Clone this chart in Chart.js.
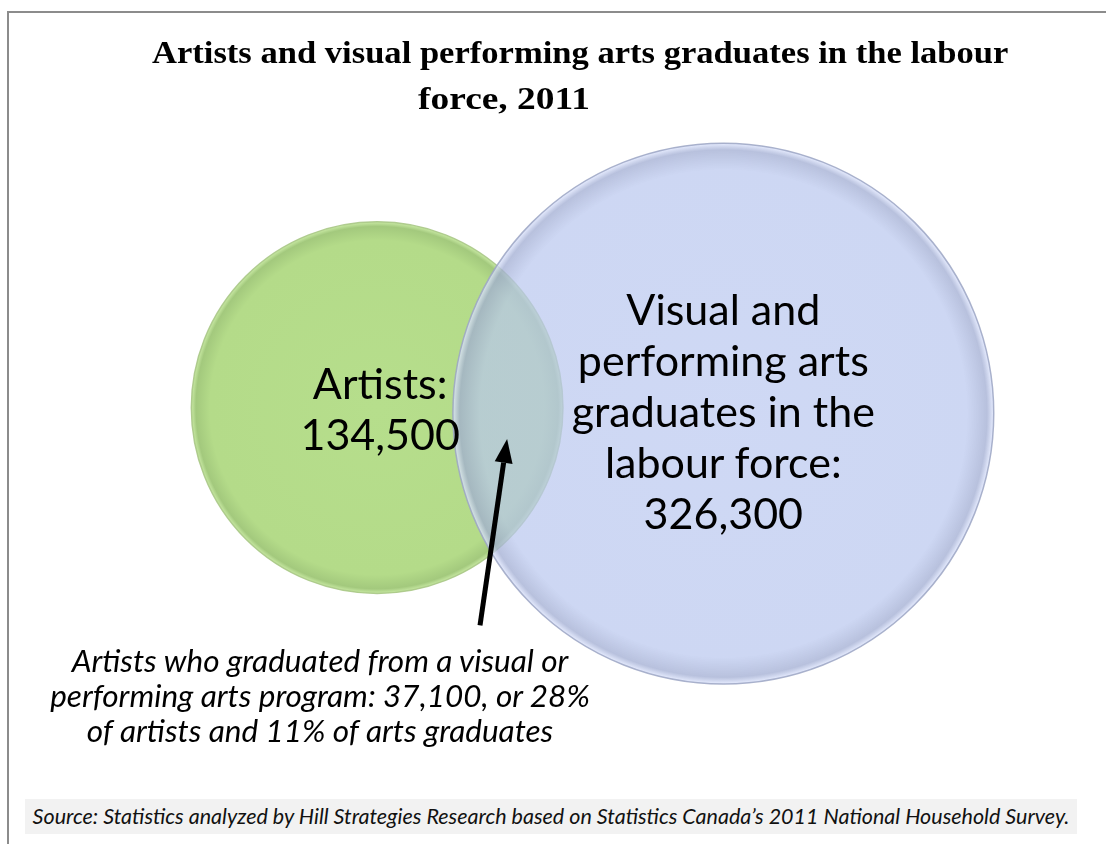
<!DOCTYPE html>
<html>
<head>
<meta charset="utf-8">
<script src="https://cdn.jsdelivr.net/npm/chart.js@4.4.1/dist/chart.umd.min.js"></script>
<style>
  html, body { margin: 0; padding: 0; background: #fff; }
  #wrap { position: relative; width: 1106px; height: 844px; overflow: hidden; }
  #frame { position: absolute; left: 7px; top: 11px; right: -10px; bottom: -10px;
    border-top: 2px solid #8c8c8c; border-left: 2px solid #8c8c8c; }
  #chart { position: absolute; left: 0; top: 0; width: 1106px; height: 844px; }
  .t { position: absolute; white-space: nowrap; color: #000; }
  .title { font-family: 'Liberation Serif', serif; font-weight: bold; font-size: 32px;
    transform-origin: left center; transform: translateY(-50%) scaleX(1.08); }
  .title.l2 { transform: translateY(-50%) scaleX(1.17); }
  .lbl { font-family: Lato, sans-serif; font-size: 43px; transform: translate(-50%, -50%); }
  .note { font-family: Lato, sans-serif; font-style: italic; font-size: 31.5px; transform: translate(-50%, -50%); }
  #source { position: absolute; left: 25px; top: 799px; width: 1052px; height: 35px; background: #f2f2f2;
    font-family: Lato, sans-serif; font-style: italic; font-size: 21.5px; line-height: 35px; text-align: center; color: #111; }
</style>
</head>
<body>
<div id="wrap">
  <div id="frame"></div>
  <canvas id="chart" width="1106" height="844"></canvas>
  <div class="t title" style="left:152px;top:52px">Artists and visual performing arts graduates in the labour</div>
  <div class="t title l2" style="left:418px;top:98px">force, 2011</div>
  <div id="labels"></div>
  <div class="t note" style="left:320px;top:660px">Artists who graduated from a visual or</div>
  <div class="t note" style="left:320px;top:695px">performing arts program: 37,100, or 28%</div>
  <div class="t note" style="left:320px;top:730px">of artists and 11% of arts graduates</div>
  <div id="source">Source: Statistics analyzed by Hill Strategies Research based on Statistics Canada’s 2011 National Household Survey.</div>
</div>
<script>
// groups and counts
const groups = ['Artists', 'Visual and performing arts graduates in the labour force'];
const counts = [134500, 326300];
const overlapCount = 37100;

// circle layout in axis units (0-100 on each axis)
const centerX = [34.1, 65.4];
const centerY = [48.3, 49.0];
const radiusX = [16.8, 24.45];

// label lines inside each circle
const labelLines = [
  ['Artists:', '134,500'],
  ['Visual and', 'performing arts', 'graduates in the', 'labour force:', '326,300']
];

const fills = [
  ['#b6de8c', '#b4db89', '#a3c97d', '#c9eaa4'],
  ['rgba(186,200,240,0.70)', 'rgba(184,198,238,0.70)', 'rgba(160,172,210,0.75)', 'rgba(225,232,255,0.8)']
];

function radiusPx(chart, i) {
  const x = chart.scales.x;
  return x.getPixelForValue(radiusX[i]) - x.getPixelForValue(0);
}

function circleFill(ctx) {
  const chart = ctx.chart;
  const i = ctx.datasetIndex;
  if (!chart.scales.x || !chart.chartArea) return fills[i][0];
  const cx = chart.scales.x.getPixelForValue(centerX[i]);
  const cy = chart.scales.y.getPixelForValue(centerY[i]);
  const r = radiusPx(chart, i);
  if (![cx, cy, r].every(Number.isFinite) || r <= 0) return fills[i][0];
  const g = chart.ctx.createRadialGradient(cx, cy, 0, cx, cy, r);
  g.addColorStop(0, fills[i][0]);
  g.addColorStop(0.9, fills[i][1]);
  g.addColorStop(0.975, fills[i][2]);
  g.addColorStop(1, fills[i][3]);
  return g;
}

// arrow from the note to the overlap, in axis units
const arrowFrom = [43.4, 74.1];
const arrowTo = [45.85, 52.0];

const arrowPlugin = {
  id: 'arrow',
  afterDatasetsDraw(chart) {
    const { ctx, scales: { x, y } } = chart;
    const x1 = x.getPixelForValue(arrowFrom[0]), y1 = y.getPixelForValue(arrowFrom[1]);
    const x2 = x.getPixelForValue(arrowTo[0]), y2 = y.getPixelForValue(arrowTo[1]);
    const a = Math.atan2(y2 - y1, x2 - x1);
    const len = 24, half = 9;
    const bx = x2 - len * Math.cos(a), by = y2 - len * Math.sin(a);
    ctx.save();
    ctx.strokeStyle = '#000';
    ctx.fillStyle = '#000';
    ctx.lineWidth = 5;
    ctx.beginPath();
    ctx.moveTo(x1, y1);
    ctx.lineTo(bx, by);
    ctx.stroke();
    ctx.beginPath();
    ctx.moveTo(x2, y2);
    ctx.lineTo(bx + half * Math.sin(a), by - half * Math.cos(a));
    ctx.lineTo(bx - half * Math.sin(a), by + half * Math.cos(a));
    ctx.closePath();
    ctx.fill();
    ctx.restore();
  }
};

const chart = new Chart(document.getElementById('chart'), {
  type: 'bubble',
  data: {
    datasets: groups.map((g, i) => ({
      label: g,
      data: [{ x: centerX[i], y: centerY[i], r: 1, count: counts[i] }],
      backgroundColor: circleFill,
      borderColor: i === 0 ? 'rgba(170,200,135,0.9)' : 'rgba(155,165,195,0.85)',
      borderWidth: 1.5,
      hoverRadius: 0,
      clip: false,
      order: i === 0 ? 1 : 0, // graduates circle drawn over the artists circle
    })),
  },
  options: {
    responsive: false,
    animation: false,
    events: [],
    layout: { padding: 0, autoPadding: false },
    plugins: { legend: { display: false }, tooltip: { enabled: false } },
    scales: {
      x: { display: false, min: 0, max: 100 },
      y: { display: false, min: 0, max: 100, reverse: true },
    },
  },
  plugins: [arrowPlugin],
});

// bubble radius in pixels comes from the x scale once it is laid out
chart.data.datasets.forEach((ds, i) => { ds.data[0].r = radiusPx(chart, i); });
chart.update();

// place the circle labels through the chart's scales
const holder = document.getElementById('labels');
labelLines.forEach((lines, i) => {
  const cx = chart.scales.x.getPixelForValue(centerX[i]) + (i === 0 ? 3 : 0);
  const cy = chart.scales.y.getPixelForValue(centerY[i]) + (i === 0 ? 0 : -4);
  const step = 51;
  const top = cy - (lines.length - 1) * step / 2;
  lines.forEach((txt, k) => {
    const d = document.createElement('div');
    d.className = 't lbl';
    d.style.left = cx + 'px';
    d.style.top = (top + k * step) + 'px';
    d.textContent = txt;
    holder.appendChild(d);
  });
});
</script>
</body>
</html>
